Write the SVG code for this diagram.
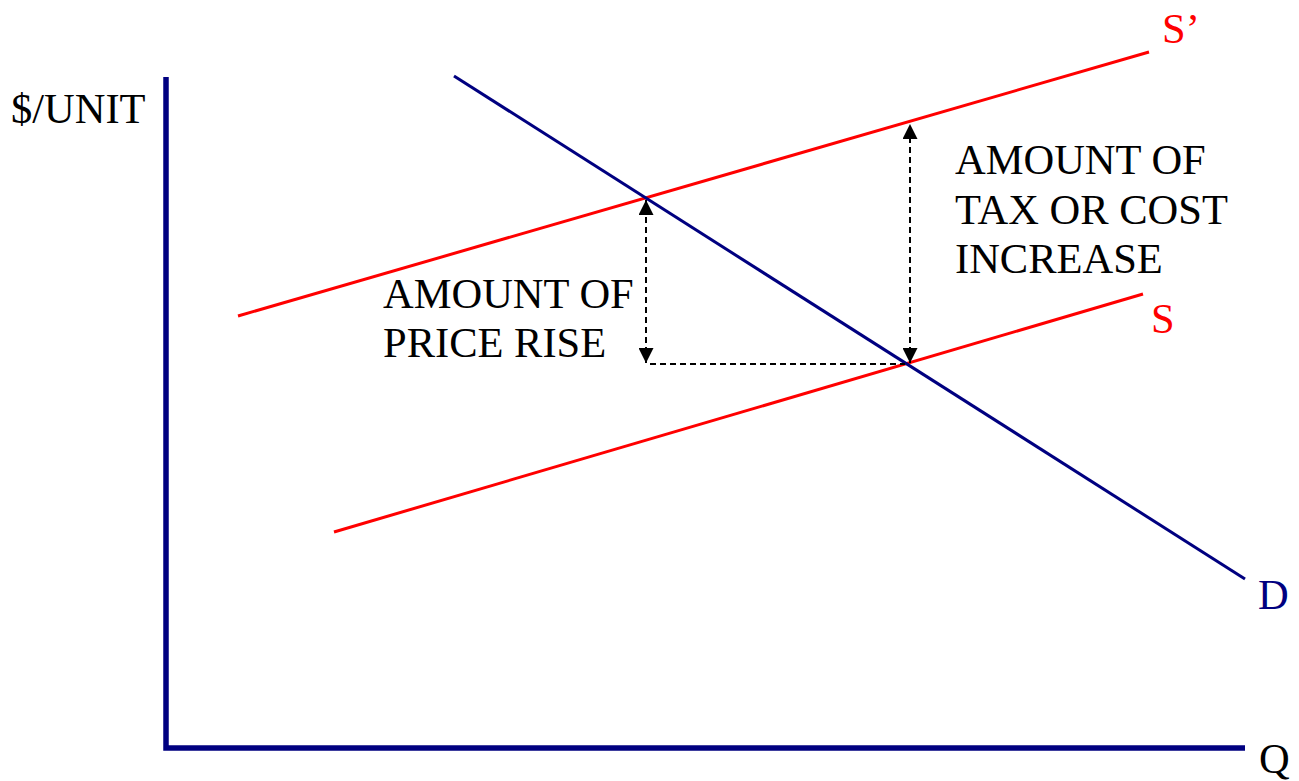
<svg xmlns="http://www.w3.org/2000/svg" width="1299" height="781" viewBox="0 0 1299 781">
<defs>
<marker id="ah" viewBox="0 0 10 10" refX="10" refY="5" markerWidth="15" markerHeight="15" markerUnits="userSpaceOnUse" orient="auto-start-reverse">
<path d="M0,0 L10,5 L0,10 Z" fill="#000"/>
</marker>
</defs>
<style>
.t{font-family:"Liberation Serif","Times New Roman",serif;font-size:42.5px;fill:#000}
.red{fill:#ff0000}
.blue{fill:#000080}
.sup{stroke:#ff0000;stroke-width:3;fill:none}
.dem{stroke:#000080;stroke-width:3;fill:none}
.axis{stroke:#000080;stroke-width:5.5;fill:none}
.dash{stroke:#000;stroke-width:2;stroke-dasharray:6,4;fill:none}
</style>
<rect width="1299" height="781" fill="#fff"/>
<g id="axes">
<polyline class="axis" points="166,77 166,748 1245,748"/>
<text class="t" x="11" y="123">$/UNIT</text>
<text class="t" x="1259" y="773">Q</text>
</g>
<g id="supply-prime">
<line class="sup" x1="238" y1="316" x2="1149" y2="52"/>
<text class="t red" x="1162" y="43">S’</text>
</g>
<g id="supply">
<line class="sup" x1="334" y1="532" x2="1143" y2="294"/>
<text class="t red" x="1151" y="333">S</text>
</g>
<g id="demand">
<line class="dem" x1="454" y1="76" x2="1245" y2="579"/>
<text class="t blue" x="1258" y="609">D</text>
</g>
<g id="connectors">
<line class="dash" x1="646" y1="363" x2="646" y2="200" marker-end="url(#ah)" marker-start="url(#ah)"/>
<line class="dash" x1="650" y1="364" x2="905" y2="364"/>
<line class="dash" x1="910" y1="363" x2="910" y2="124" marker-end="url(#ah)" marker-start="url(#ah)"/>
</g>
<g id="label-price-rise">
<text class="t" x="383" y="308">AMOUNT OF</text>
<text class="t" x="383" y="357">PRICE RISE</text>
</g>
<g id="label-tax">
<text class="t" x="955" y="174">AMOUNT OF</text>
<text class="t" x="955" y="224">TAX OR COST</text>
<text class="t" x="955" y="273">INCREASE</text>
</g>
</svg>
